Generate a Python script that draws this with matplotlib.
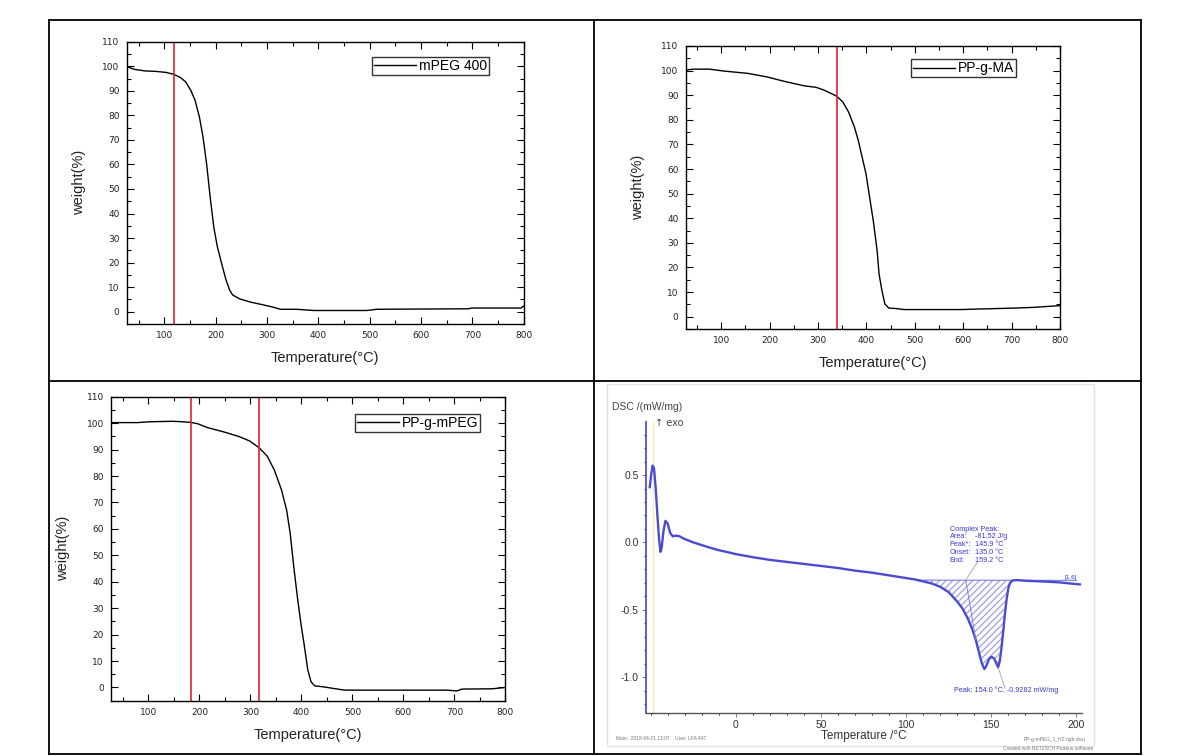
import matplotlib
matplotlib.use("Agg")
import matplotlib.pyplot as plt
import numpy as np
from matplotlib.ticker import MultipleLocator

plt.rcParams['font.family'] = ['Liberation Sans', 'DejaVu Sans']

W, H = 1193, 756

# --- TGA data ---
mpeg_t = [27, 42, 62, 83, 103, 118.5, 131, 141, 151, 159.5, 168, 175, 182, 189, 196, 203,
          213, 220, 227, 233, 247, 268, 288, 309, 326, 357, 391, 494, 514, 692, 699, 795, 800]
mpeg_w = [99.8, 98.7, 98.1, 97.9, 97.5, 96.7, 95.4, 93.7, 90.3, 86.2, 79.4, 71.3, 60.4, 46.8,
          34.6, 26.5, 18.3, 12.9, 8.8, 6.8, 5.2, 3.9, 3.0, 2.0, 1.0, 1.0, 0.5, 0.5, 1.0, 1.2,
          1.5, 1.5, 2.3]

ppma_t = [25, 43, 75, 106, 154, 193, 233, 272, 296, 312, 327, 338.5, 351, 363, 375, 383, 391,
          399, 406.5, 414, 422, 426, 432, 438, 446, 462, 478, 596, 628, 707, 746, 800]
ppma_w = [100.2, 100.6, 100.6, 99.8, 98.9, 97.5, 95.5, 93.8, 93.2, 92.1, 90.7, 89.6, 87.3, 83.2,
          77.1, 71.7, 64.9, 58.1, 48.6, 39.1, 26.9, 17.4, 10.6, 5.2, 3.5, 3.3, 2.9, 2.9, 3.1,
          3.5, 3.8, 4.5]

ppmpeg_t = [26, 79, 100, 147, 168, 182.5, 196, 216, 251, 278, 299, 317, 333, 347, 361, 371, 378,
            385, 392, 399, 406, 412.5, 419, 426, 443, 464, 485, 595, 684, 705, 715, 774, 800]
ppmpeg_w = [100.2, 100.2, 100.5, 100.7, 100.5, 100.3, 99.8, 98.3, 96.5, 94.9, 93.2, 90.7, 87.5,
            82.2, 74.7, 67.1, 58.3, 45.7, 34.3, 24.2, 15.4, 6.6, 2.1, 0.6, 0.25, -0.4, -1.0,
            -1.0, -1.0, -1.3, -0.6, -0.5, 0.0]

mpeg_mark = [118.5]
ppma_mark = [339]
ppmpeg_mark = [182.5, 317]

# --- DSC data ---
dsc_t = [-50.5, -49.5, -48.8, -48, -47, -46, -45, -44.2, -43.5, -42.5, -41.3, -40, -38.5, -37,
         -35, -33, -30, -25, -20, -15, -10, -5, 0, 10, 20, 30, 40, 50, 60, 70, 80, 90, 100, 105,
         110, 115, 120, 125, 130, 133, 136, 139, 141, 143, 144.5, 145.9, 147, 148.5, 150, 151.5,
         153, 154, 155, 156, 157, 158, 159, 160, 161, 162.5, 165, 170, 180, 190, 200, 202]
dsc_v = [0.41, 0.52, 0.57, 0.55, 0.40, 0.20, 0.02, -0.07, -0.04, 0.08, 0.16, 0.14, 0.07, 0.045,
         0.05, 0.045, 0.025, 0.0, -0.02, -0.04, -0.058, -0.072, -0.087, -0.11, -0.13, -0.145,
         -0.16, -0.175, -0.19, -0.21, -0.225, -0.245, -0.265, -0.275, -0.29, -0.305, -0.33,
         -0.37, -0.44, -0.49, -0.56, -0.65, -0.73, -0.83, -0.90, -0.94, -0.92, -0.87, -0.85,
         -0.86, -0.90, -0.928, -0.88, -0.78, -0.66, -0.53, -0.42, -0.34, -0.30, -0.283, -0.28,
         -0.285, -0.29, -0.297, -0.31, -0.312]
base_t = [106, 200]
base_v = [-0.280, -0.282]
peak_labels = ["Complex Peak:", "Area:", "Peak*:", "Onset:", "End:"]
peak_values = ["", "-81.52 J/g", "145.9 °C", "135.0 °C", "159.2 °C"]


def box(l, t, r, b):
    return fig.add_axes([l / W, 1 - b / H, (r - l) / W, (b - t) / H])


fig = plt.figure(figsize=(W / 100, H / 100), dpi=100)

# table grid
grid = fig.add_axes([0, 0, 1, 1])
grid.set_xlim(0, W)
grid.set_ylim(H, 0)
grid.axis('off')
for x in (49, 594, 1141):
    grid.plot([x, x], [20, 754], color='black', lw=1.3)
for y in (20, 380.5, 754):
    grid.plot([49, 1141], [y, y], color='black', lw=1.3)


def tga(rect, t, w, marks, name, leg_xy):
    ax = box(*rect)
    ax.plot(t, w, color='black', lw=1.0, label=name)
    for m in marks:
        ax.axvline(m, color='#e02030', lw=1.2)
    ax.set_xlim(26, 800)
    ax.set_ylim(-5, 110)
    ax.xaxis.set_minor_locator(MultipleLocator(50))
    ax.yaxis.set_minor_locator(MultipleLocator(5))
    ax.set_xticks(range(100, 801, 100))
    ax.set_yticks(range(0, 111, 10))
    for lab in ax.get_xticklabels() + ax.get_yticklabels():
        lab.set_family(['DejaVu Sans'])
    ax.tick_params(which='both', direction='in', top=True, right=True, labelsize=6.5,
                   labelcolor='#222', width=0.8)
    ax.tick_params(which='major', length=5, pad=5)
    ax.tick_params(which='minor', length=3)
    for s in ax.spines.values():
        s.set_linewidth(1.0)
    ax.set_xlabel('Temperature(°C)', fontsize=10.5, color='#222', labelpad=8)
    ax.set_ylabel('weight(%)', fontsize=10.5, color='#222', labelpad=12)
    leg = ax.legend(loc='upper right', bbox_to_anchor=leg_xy, fontsize=10, frameon=True,
                    fancybox=False, edgecolor='black', handlelength=3.0, borderpad=0.15,
                    handletextpad=0.2, borderaxespad=0)
    leg.get_frame().set_linewidth(1.0)
    return ax


tga((126.5, 41.7, 523.7, 324), mpeg_t, mpeg_w, mpeg_mark, 'mPEG 400', (0.913, 0.946))
tga((685.5, 46, 1060, 329), ppma_t, ppma_w, ppma_mark, 'PP-g-MA', (0.882, 0.953))
tga((110.7, 396.7, 505.4, 700.7), ppmpeg_t, ppmpeg_w, ppmpeg_mark, 'PP-g-mPEG', (0.936, 0.943))

# DSC panel frame
grid.add_patch(plt.Rectangle((606.5, 384), 487, 362, fill=False, edgecolor='#e4e4e4', lw=1))
grid.text(612, 407, 'DSC /(mW/mg)', fontsize=7.5, color='#444', va='center')
grid.text(655, 423, '↑ exo', fontsize=7, color='#444', va='center', family=['DejaVu Sans'])
grid.text(616, 739, 'Main:  2018-04-21 13:07    User: LFA 447', fontsize=3.5, color='#777',
          va='center')
grid.text(1085, 739, 'PP-g-mPEG_1_HZ.ngb-dssj', fontsize=3.5, color='#777', va='center',
          ha='right')
grid.text(1093, 748, 'Created with NETZSCH Proteus software', fontsize=3.5, color='#777',
          va='center', ha='right')

ax = box(645.5, 422, 1081.6, 713)
ax.set_xlim(-53, 203)
ax.set_ylim(-1.267, 0.894)
ax.axvline(-48.6, color='#f3eeb0', lw=1.0)
ax.plot(base_t, base_v, color='#6a6ad8', lw=0.7)
bt = np.array(dsc_t)
bv = np.array(dsc_v)
sel = (bt >= 106) & (bt <= 163)
ax.fill_between(bt[sel], np.interp(bt[sel], base_t, base_v), bv[sel], facecolor='none',
                edgecolor='#a8a8e4', hatch='/////', lw=0)
ax.plot(dsc_t, dsc_v, color='#4b4bd0', lw=1.7)
ax.plot([135, 140.8], [-0.28, -0.72], color='#8080d8', lw=0.7)
ax.plot([135.6, 141.9], [-0.268, -0.146], color='#a0a0a0', lw=0.6)
ax.plot([154, 158.1], [-0.928, -1.084], color='#a0a0a0', lw=0.6)
for i, (lab, val) in enumerate(zip(peak_labels, peak_values)):
    yv = 0.099 - i * 0.0575
    ax.text(125.6, yv, lab, fontsize=5.2, color='#3a3ad0', va='center')
    ax.text(140.5, yv, val, fontsize=5.2, color='#3a3ad0', va='center')
ax.text(128, -1.10, 'Peak: 154.0 °C, -0.9282 mW/mg', fontsize=5.2, color='#3a3ad0', va='center')
ax.text(196.5, -0.262, '[1.6]', fontsize=4.5, color='#3a3ad0', va='center', ha='center')

ax.set_xticks([0, 50, 100, 150, 200])
ax.set_yticks([-1.0, -0.5, 0.0, 0.5])
ax.set_yticklabels(['-1.0', '-0.5', '0.0', '0.5'])
ax.xaxis.set_minor_locator(MultipleLocator(10))
ax.yaxis.set_minor_locator(MultipleLocator(0.1))
ax.tick_params(which='both', direction='out', labelsize=7.5, labelcolor='#333', width=0.6)
ax.tick_params(which='major', length=3, pad=2)
ax.tick_params(which='minor', length=1.5)
ax.tick_params(axis='y', colors='#5555cc', labelcolor='#333')
ax.tick_params(axis='x', colors='#666', labelcolor='#333')
ax.spines['top'].set_visible(False)
ax.spines['right'].set_visible(False)
ax.spines['left'].set_color('#5050cc')
ax.spines['left'].set_linewidth(1.3)
ax.spines['bottom'].set_color('#555')
ax.spines['bottom'].set_linewidth(1.0)
ax.set_xlabel('Temperature /°C', fontsize=8.5, color='#333', labelpad=0)
ax.patch.set_alpha(0)

fig.savefig('out.png', dpi=100)
